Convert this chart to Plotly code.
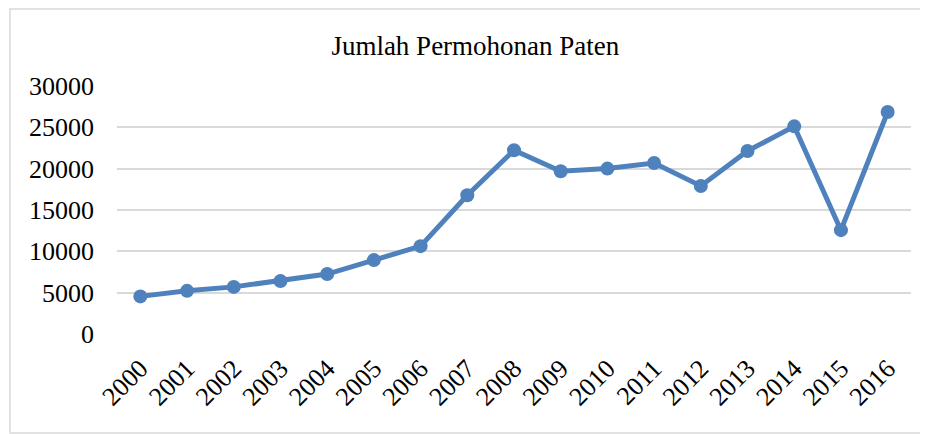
"""Line chart: Jumlah Permohonan Paten 2000-2016."""

import plotly.graph_objects as go

YEARS = [str(y) for y in range(2000, 2017)]
APPLICATIONS = [
    4550, 5220, 5700, 6400, 7250, 8940, 10630, 16790, 22220,
    19680, 20010, 20690, 17910, 22140, 25120, 12560, 26850,
]
Y_TICKS = [0, 5000, 10000, 15000, 20000, 25000, 30000]
Y_TICK_LABELS = [str(v) for v in Y_TICKS]

TITLE = "Jumlah Permohonan Paten"
LINE_COLOR = "#4f81bd"
GRID_COLOR = "#d9d9d9"
FONT = "Liberation Serif, Times New Roman, serif"

fig = go.Figure()

fig.add_trace(
    go.Scatter(
        x=YEARS,
        y=APPLICATIONS,
        mode="lines+markers",
        line={"color": LINE_COLOR, "width": 5},
        marker={"color": LINE_COLOR, "size": 14},
        showlegend=False,
        hoverinfo="x+y",
    )
)

# outer chart frame (light grey, Excel style); right edge runs off the page
fig.add_shape(
    type="rect",
    xref="paper",
    yref="paper",
    x0=-0.1348,
    x1=1.2,
    y0=-0.399,
    y1=1.3105,
    line={"color": GRID_COLOR, "width": 1.5},
    layer="below",
)

# page body has an 8px margin, so the figure is 8px smaller than the window
fig.update_layout(
    width=920,
    height=426,
    paper_bgcolor="white",
    plot_bgcolor="white",
    margin={"l": 109, "r": 17, "t": 78, "b": 100},
    font={"family": FONT, "color": "#000000", "size": 26},
    title={
        "text": TITLE,
        "x": 0.508,
        "xanchor": "center",
        "y": 0.913,
        "yanchor": "middle",
        "font": {"family": FONT, "size": 27, "color": "#000000"},
    },
)

fig.update_xaxes(
    type="category",
    range=[-0.5, len(YEARS) - 0.5],
    tickangle=-45,
    showgrid=False,
    showline=False,
    ticks="",
    ticklabelstandoff=13,
    tickfont={"family": FONT, "size": 26},
)
fig.update_yaxes(
    range=[0, 30000],
    tickvals=Y_TICKS,
    ticktext=Y_TICK_LABELS,
    showgrid=True,
    gridcolor=GRID_COLOR,
    gridwidth=2,
    zeroline=False,
    showline=False,
    ticks="",
    ticklabelstandoff=22,
    tickfont={"family": FONT, "size": 26},
)

fig.write_html("out.html")
